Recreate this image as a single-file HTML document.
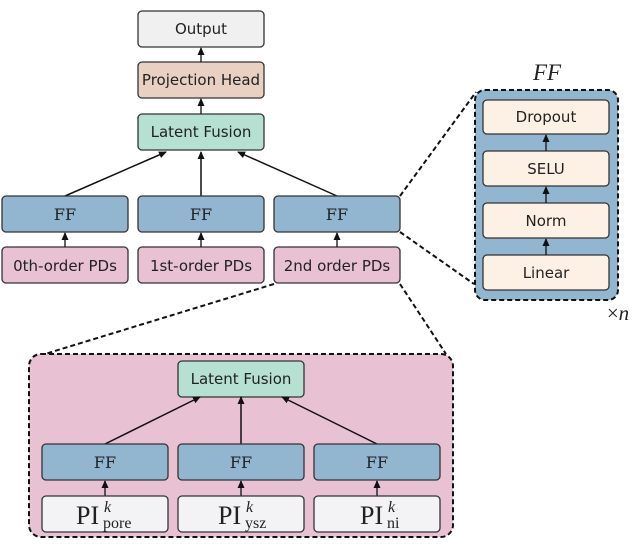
<!DOCTYPE html>
<html><head><meta charset="utf-8"><style>
body{margin:0;background:#fff}
svg{display:block}
text{font-family:"DejaVu Sans","Liberation Sans",sans-serif;font-size:15px;fill:#222}
.ff{font-family:"DejaVu Serif","Liberation Serif",serif;font-size:16px}
.pi{font-family:"Liberation Serif","DejaVu Serif",serif;font-size:26px}
.b{stroke:#333;stroke-width:1.3}
.d{stroke:#111;stroke-width:2;stroke-dasharray:5,3}
.dl{fill:none}
</style></head><body>
<svg width="639" height="549" viewBox="0 0 639 549" xmlns="http://www.w3.org/2000/svg">
<defs><marker id="a" markerWidth="8" markerHeight="8" refX="7" refY="4" orient="auto" markerUnits="userSpaceOnUse"><path d="M0,0.5 L8,4 L0,7.5z" fill="#111"/></marker></defs>
<line class="d dl" x1="400" y1="196" x2="476" y2="92"/>
<line class="d dl" x1="400" y1="232" x2="474" y2="284"/>
<line class="d dl" x1="274" y1="284" x2="45" y2="354"/>
<line class="d dl" x1="400" y1="284" x2="446" y2="354"/>
<rect class="b" x="138" y="11" width="126" height="36" rx="4" fill="#f0f0f0"/>
<text x="201" y="34" text-anchor="middle">Output</text>
<rect class="b" x="138" y="62" width="126" height="36" rx="4" fill="#e8d1c3"/>
<text x="201" y="85" text-anchor="middle">Projection Head</text>
<rect class="b" x="138" y="114" width="126" height="36" rx="4" fill="#b6e0d2"/>
<text x="201" y="137" text-anchor="middle">Latent Fusion</text>
<line x1="201" y1="62" x2="201" y2="48" stroke="#111" stroke-width="1.3" marker-end="url(#a)"/>
<line x1="201" y1="114" x2="201" y2="99" stroke="#111" stroke-width="1.3" marker-end="url(#a)"/>
<line x1="65" y1="196" x2="166" y2="152" stroke="#111" stroke-width="1.5" marker-end="url(#a)"/>
<line x1="201" y1="196" x2="201" y2="152" stroke="#111" stroke-width="1.5" marker-end="url(#a)"/>
<line x1="337" y1="196" x2="238" y2="152" stroke="#111" stroke-width="1.5" marker-end="url(#a)"/>
<rect class="b" x="2" y="196" width="126" height="36" rx="4" fill="#92b5d0"/>
<rect class="b" x="138" y="196" width="126" height="36" rx="4" fill="#92b5d0"/>
<rect class="b" x="274" y="196" width="126" height="36" rx="4" fill="#92b5d0"/>
<text class="ff" x="65" y="220" text-anchor="middle">FF</text>
<text class="ff" x="201" y="220" text-anchor="middle">FF</text>
<text class="ff" x="337" y="220" text-anchor="middle">FF</text>
<rect class="b" x="2" y="247" width="126" height="36" rx="4" fill="#e8c1d3"/>
<rect class="b" x="138" y="247" width="126" height="36" rx="4" fill="#e8c1d3"/>
<rect class="b" x="274" y="247" width="126" height="36" rx="4" fill="#e8c1d3"/>
<text x="65" y="271" text-anchor="middle">0th-order PDs</text>
<text x="201" y="271" text-anchor="middle">1st-order PDs</text>
<text x="337" y="271" text-anchor="middle">2nd order PDs</text>
<line x1="65" y1="247" x2="65" y2="233" stroke="#111" stroke-width="1.3" marker-end="url(#a)"/>
<line x1="201" y1="247" x2="201" y2="233" stroke="#111" stroke-width="1.3" marker-end="url(#a)"/>
<line x1="337" y1="247" x2="337" y2="233" stroke="#111" stroke-width="1.3" marker-end="url(#a)"/>
<text x="547" y="80" text-anchor="middle" style="font-family:'Liberation Serif',serif;font-style:italic;font-size:23px">FF</text>
<rect class="d" x="475" y="90" width="143" height="210" rx="10" style="fill:#92b5d0"/>
<rect class="b" x="483" y="100" width="126" height="34" rx="4" fill="#fdf1e6"/>
<rect class="b" x="483" y="151" width="126" height="35" rx="4" fill="#fdf1e6"/>
<rect class="b" x="483" y="203" width="126" height="35" rx="4" fill="#fdf1e6"/>
<rect class="b" x="483" y="255" width="126" height="35" rx="4" fill="#fdf1e6"/>
<text x="546" y="122" text-anchor="middle">Dropout</text>
<text x="546" y="174" text-anchor="middle">SELU</text>
<text x="546" y="226" text-anchor="middle">Norm</text>
<text x="546" y="278" text-anchor="middle">Linear</text>
<line x1="546" y1="151" x2="546" y2="135" stroke="#111" stroke-width="1.3" marker-end="url(#a)"/>
<line x1="546" y1="203" x2="546" y2="187" stroke="#111" stroke-width="1.3" marker-end="url(#a)"/>
<line x1="546" y1="255" x2="546" y2="239" stroke="#111" stroke-width="1.3" marker-end="url(#a)"/>
<text x="618" y="320" text-anchor="middle" style="font-family:'Liberation Serif',serif;font-size:21px">×<tspan font-style="italic">n</tspan></text>
<rect class="d" x="29" y="354" width="424" height="183" rx="12" style="fill:#e8c1d3"/>
<rect class="b" x="178" y="361" width="126" height="36" rx="4" fill="#b6e0d2"/>
<text x="241" y="384" text-anchor="middle">Latent Fusion</text>
<line x1="105" y1="444" x2="200" y2="397" stroke="#111" stroke-width="1.5" marker-end="url(#a)"/>
<line x1="241" y1="444" x2="241" y2="397" stroke="#111" stroke-width="1.5" marker-end="url(#a)"/>
<line x1="377" y1="444" x2="282" y2="397" stroke="#111" stroke-width="1.5" marker-end="url(#a)"/>
<rect class="b" x="42" y="444" width="126" height="36" rx="4" fill="#92b5d0"/>
<rect class="b" x="178" y="444" width="126" height="36" rx="4" fill="#92b5d0"/>
<rect class="b" x="314" y="444" width="126" height="36" rx="4" fill="#92b5d0"/>
<text class="ff" x="105" y="468" text-anchor="middle">FF</text>
<text class="ff" x="241" y="468" text-anchor="middle">FF</text>
<text class="ff" x="377" y="468" text-anchor="middle">FF</text>
<line x1="105" y1="496" x2="105" y2="481" stroke="#111" stroke-width="1.3" marker-end="url(#a)"/>
<line x1="241" y1="496" x2="241" y2="481" stroke="#111" stroke-width="1.3" marker-end="url(#a)"/>
<line x1="377" y1="496" x2="377" y2="481" stroke="#111" stroke-width="1.3" marker-end="url(#a)"/>
<rect class="b" x="42" y="496" width="126" height="36" rx="4" fill="#f3f3f5"/>
<rect class="b" x="178" y="496" width="126" height="36" rx="4" fill="#f3f3f5"/>
<rect class="b" x="314" y="496" width="126" height="36" rx="4" fill="#f3f3f5"/>
<text class="pi" x="76" y="524">PI</text><text x="104" y="512" style="font-family:'Liberation Serif',serif;font-style:italic;font-size:16px">k</text><text x="103" y="528" style="font-family:'Liberation Serif',serif;font-size:16px">pore</text>
<text class="pi" x="218" y="524">PI</text><text x="246" y="512" style="font-family:'Liberation Serif',serif;font-style:italic;font-size:16px">k</text><text x="245" y="528" style="font-family:'Liberation Serif',serif;font-size:16px">ysz</text>
<text class="pi" x="360" y="524">PI</text><text x="388" y="512" style="font-family:'Liberation Serif',serif;font-style:italic;font-size:16px">k</text><text x="387" y="528" style="font-family:'Liberation Serif',serif;font-size:16px">ni</text>
</svg>
</body></html>
